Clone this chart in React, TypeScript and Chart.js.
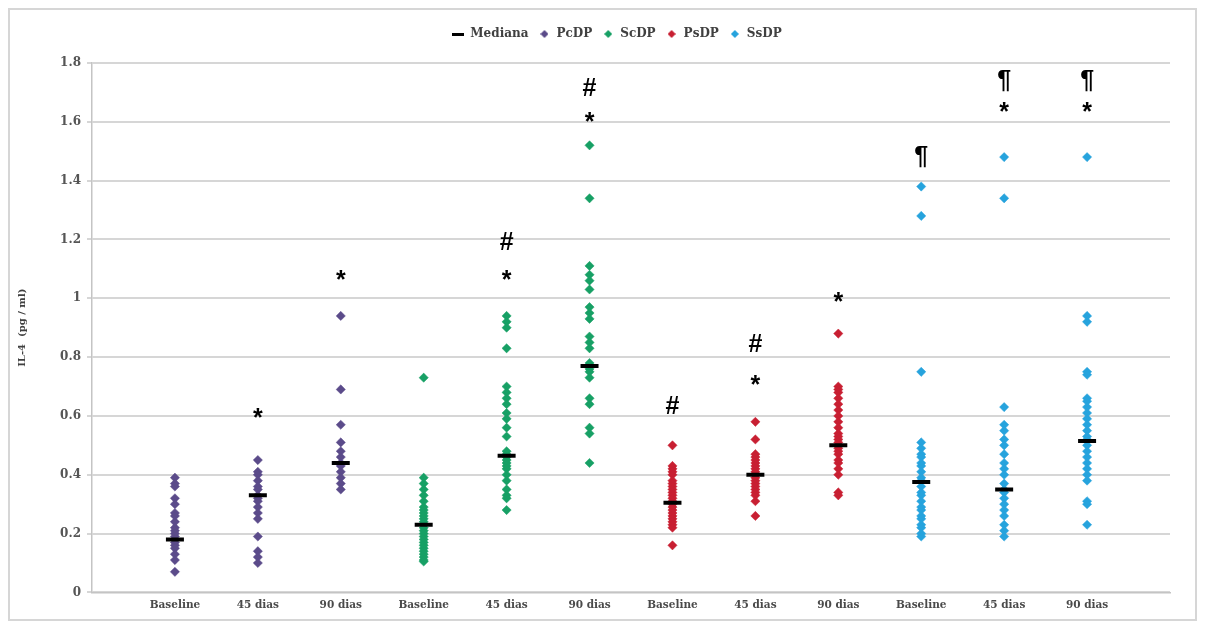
import React, { useEffect, useRef } from 'react';
import { Chart, registerables } from 'chart.js';

Chart.register(...registerables);

// Category labels (x axis), 4 groups x 3 time points
const categories = [
  'Baseline', '45 dias', '90 dias',
  'Baseline', '45 dias', '90 dias',
  'Baseline', '45 dias', '90 dias',
  'Baseline', '45 dias', '90 dias',
];

const yTickValues = [0, 0.2, 0.4, 0.6, 0.8, 1, 1.2, 1.4, 1.6, 1.8];

// PcDP
const pcdpBaseline = [0.39, 0.37, 0.36, 0.32, 0.30, 0.27, 0.26, 0.24, 0.22, 0.21, 0.20, 0.19, 0.18, 0.17, 0.16, 0.15, 0.13, 0.11, 0.07];
const pcdp45 = [0.45, 0.41, 0.40, 0.38, 0.36, 0.35, 0.33, 0.32, 0.31, 0.29, 0.27, 0.25, 0.19, 0.14, 0.12, 0.10];
const pcdp90 = [0.94, 0.69, 0.57, 0.51, 0.48, 0.46, 0.44, 0.43, 0.41, 0.39, 0.37, 0.35];
// ScDP
const scdpBaseline = [0.73, 0.39, 0.37, 0.35, 0.33, 0.31, 0.29, 0.28, 0.27, 0.26, 0.25, 0.24, 0.23, 0.22, 0.21, 0.20, 0.19, 0.18, 0.17, 0.16, 0.15, 0.14, 0.13, 0.12, 0.11, 0.105];
const scdp45 = [0.94, 0.92, 0.90, 0.83, 0.70, 0.68, 0.66, 0.64, 0.61, 0.59, 0.56, 0.53, 0.48, 0.47, 0.46, 0.45, 0.44, 0.43, 0.42, 0.40, 0.38, 0.35, 0.33, 0.32, 0.28];
const scdp90 = [1.52, 1.34, 1.11, 1.08, 1.06, 1.03, 0.97, 0.95, 0.93, 0.87, 0.85, 0.83, 0.78, 0.77, 0.76, 0.75, 0.73, 0.66, 0.64, 0.56, 0.54, 0.44];
// PsDP
const psdpBaseline = [0.50, 0.43, 0.42, 0.41, 0.40, 0.38, 0.37, 0.36, 0.35, 0.34, 0.33, 0.32, 0.31, 0.30, 0.29, 0.28, 0.27, 0.26, 0.25, 0.24, 0.23, 0.22, 0.16];
const psdp45 = [0.58, 0.52, 0.47, 0.46, 0.45, 0.44, 0.43, 0.42, 0.41, 0.40, 0.39, 0.38, 0.37, 0.36, 0.35, 0.34, 0.33, 0.31, 0.26];
const psdp90 = [0.88, 0.70, 0.69, 0.68, 0.66, 0.64, 0.62, 0.60, 0.58, 0.56, 0.54, 0.53, 0.52, 0.51, 0.50, 0.49, 0.48, 0.47, 0.45, 0.44, 0.42, 0.40, 0.34, 0.33];
// SsDP
const ssdpBaseline = [1.38, 1.28, 0.75, 0.51, 0.49, 0.47, 0.46, 0.44, 0.43, 0.41, 0.39, 0.38, 0.36, 0.34, 0.33, 0.31, 0.29, 0.28, 0.26, 0.25, 0.23, 0.22, 0.20, 0.19];
const ssdp45 = [1.48, 1.34, 0.63, 0.57, 0.55, 0.52, 0.50, 0.47, 0.44, 0.42, 0.40, 0.37, 0.35, 0.34, 0.32, 0.30, 0.28, 0.26, 0.23, 0.21, 0.19];
const ssdp90 = [1.48, 0.94, 0.92, 0.75, 0.74, 0.66, 0.65, 0.63, 0.61, 0.59, 0.57, 0.55, 0.53, 0.52, 0.50, 0.48, 0.46, 0.44, 0.42, 0.40, 0.38, 0.31, 0.30, 0.23];

// Medians, one per category
const medians = [0.18, 0.33, 0.44, 0.23, 0.465, 0.77, 0.305, 0.40, 0.50, 0.375, 0.35, 0.515];

// Significance marks: category number (1-based) and value where the mark is centred
const marks = [
  { cat: 2, text: '*', y: 0.61 },
  { cat: 3, text: '*', y: 1.08 },
  { cat: 5, text: '#', y: 1.196 },
  { cat: 5, text: '*', y: 1.078 },
  { cat: 6, text: '#', y: 1.719 },
  { cat: 6, text: '*', y: 1.615 },
  { cat: 7, text: '#', y: 0.637 },
  { cat: 8, text: '#', y: 0.847 },
  { cat: 8, text: '*', y: 0.722 },
  { cat: 9, text: '*', y: 1.003 },
  { cat: 10, text: '¶', y: 1.48 },
  { cat: 11, text: '¶', y: 1.738 },
  { cat: 11, text: '*', y: 1.649 },
  { cat: 12, text: '¶', y: 1.738 },
  { cat: 12, text: '*', y: 1.649 },
];

const seriesNames = ['PcDP', 'ScDP', 'PsDP', 'SsDP'];
const seriesColors = ['#5b4b8a', '#17a065', '#c81f32', '#26a3dd'];
const seriesGroups = [
  [pcdpBaseline, pcdp45, pcdp90],
  [scdpBaseline, scdp45, scdp90],
  [psdpBaseline, psdp45, psdp90],
  [ssdpBaseline, ssdp45, ssdp90],
];

const FONT = '"DejaVu Serif", serif';

function makeIcon(kind: string, color: string) {
  const c = document.createElement('canvas');
  const ctx = c.getContext('2d')!;
  if (kind === 'line') {
    c.width = 12; c.height = 3;
    ctx.fillStyle = color;
    ctx.fillRect(0, 0, 12, 3);
  } else {
    c.width = 8; c.height = 8;
    ctx.fillStyle = color;
    ctx.beginPath();
    ctx.moveTo(4, 0); ctx.lineTo(8, 4); ctx.lineTo(4, 8); ctx.lineTo(0, 4);
    ctx.closePath();
    ctx.fill();
  }
  return c;
}

const marksPlugin = {
  id: 'sigMarks',
  afterDatasetsDraw(chart: any) {
    const { ctx, scales } = chart;
    const x = scales.x, y = scales.y;
    ctx.save();
    ctx.fillStyle = '#000';
    ctx.font = 'bold 25px "Liberation Sans", Arial, sans-serif';
    ctx.textAlign = 'center';
    ctx.textBaseline = 'alphabetic';
    for (const m of marks) {
      const px = x.getPixelForValue(m.cat);
      const py = y.getPixelForValue(m.y);
      const mt = ctx.measureText(m.text);
      const by = py + (mt.actualBoundingBoxAscent - mt.actualBoundingBoxDescent) / 2;
      ctx.fillText(m.text, px, by);
    }
    ctx.restore();
  },
};

const legendTweaks = {
  id: 'legendTweaks',
  beforeInit(chart: any) {
    const legend = chart.legend;
    if (!legend) return;
    const orig = legend.fit;
    legend.fit = function () {
      orig.call(this);
      this.height += 13;
    };
  },
  afterLayout(chart: any) {
    const legend = chart.legend;
    if (!legend) return;
    legend.left += 26;
    legend.right += 26;
  },
};

export default function App() {
  const ref = useRef<HTMLCanvasElement | null>(null);

  useEffect(() => {
    if (!ref.current) return;

    const datasets: any[] = [];
    datasets.push({
      label: 'Mediana',
      data: medians.map((v, i) => ({ x: i + 1, y: v })),
      pointStyle: 'line',
      pointRadius: 9,
      pointBorderWidth: 4,
      borderColor: '#000',
      backgroundColor: '#000',
      showLine: false,
    });
    seriesNames.forEach((name, s) => {
      const data: any[] = [];
      seriesGroups[s].forEach((vals, t) => {
        const cat = s * 3 + t + 1;
        vals.forEach((v) => data.push({ x: cat, y: v }));
      });
      datasets.push({
        label: name,
        data,
        pointStyle: 'rectRot',
        pointRadius: 4.6,
        pointBorderWidth: 0.5,
        borderColor: seriesColors[s],
        backgroundColor: seriesColors[s],
        showLine: false,
      });
    });

    const icons = [makeIcon('line', '#000'), ...seriesColors.map((c) => makeIcon('diamond', c))];

    const chart = new Chart(ref.current, {
      type: 'scatter',
      data: { datasets },
      plugins: [legendTweaks, marksPlugin],
      options: {
        animation: false,
        responsive: false,
        layout: { padding: { top: 8, left: 2, right: 25, bottom: 0 } },
        plugins: {
          tooltip: { enabled: false },
          legend: {
            position: 'top',
            labels: {
              usePointStyle: true,
              boxWidth: 12,
              boxHeight: 8,
              padding: 10,
              color: '#404040',
              font: { family: FONT, size: 12, weight: 'bold' },
              generateLabels: (ch: any) =>
                ch.data.datasets.map((ds: any, i: number) => ({
                  text: ds.label,
                  pointStyle: icons[i],
                  fillStyle: ds.backgroundColor,
                  strokeStyle: ds.borderColor,
                  lineWidth: 0,
                  hidden: false,
                  datasetIndex: i,
                  fontColor: '#404040',
                })),
            },
          },
        },
        scales: {
          x: {
            type: 'linear',
            min: 0,
            max: 13,
            afterBuildTicks: (scale: any) => {
              scale.ticks = categories.map((_, i) => ({ value: i + 1 }));
            },
            ticks: {
              autoSkip: false,
              maxRotation: 0,
              padding: 7,
              color: '#4a4a4a',
              font: { family: FONT, size: 10.5, weight: 'bold' },
              callback: (v: any) => categories[Math.round(v) - 1] ?? '',
            },
            grid: { drawOnChartArea: false, drawTicks: false },
            border: { display: true, color: '#c4c4c4', width: 1.5 },
          },
          y: {
            type: 'linear',
            min: 0,
            max: 1.8,
            afterBuildTicks: (scale: any) => {
              scale.ticks = yTickValues.map((v) => ({ value: v }));
            },
            afterFit: (scale: any) => {
              scale.width = 80;
            },
            ticks: {
              padding: 6,
              color: '#555',
              font: { family: FONT, size: 12, weight: 'bold' },
              callback: (v: any) => String(+Number(v).toFixed(1)),
            },
            grid: { color: '#d6d6d6', lineWidth: 2, tickLength: 5 },
            border: { display: true, color: '#c4c4c4', width: 1.5 },
            title: {
              display: true,
              text: 'IL-4  (pg / ml)',
              color: '#404040',
              font: { family: FONT, size: 10, weight: 'bold' },
              padding: { top: 4, bottom: 4 },
            },
          },
        },
      },
    });
    return () => chart.destroy();
  }, []);

  return (
    <div style={{ width: 1185, height: 609, border: '2px solid #d6d6d6', background: '#fff' }}>
      <canvas ref={ref} width={1185} height={609} style={{ display: 'block' }} />
    </div>
  );
}
